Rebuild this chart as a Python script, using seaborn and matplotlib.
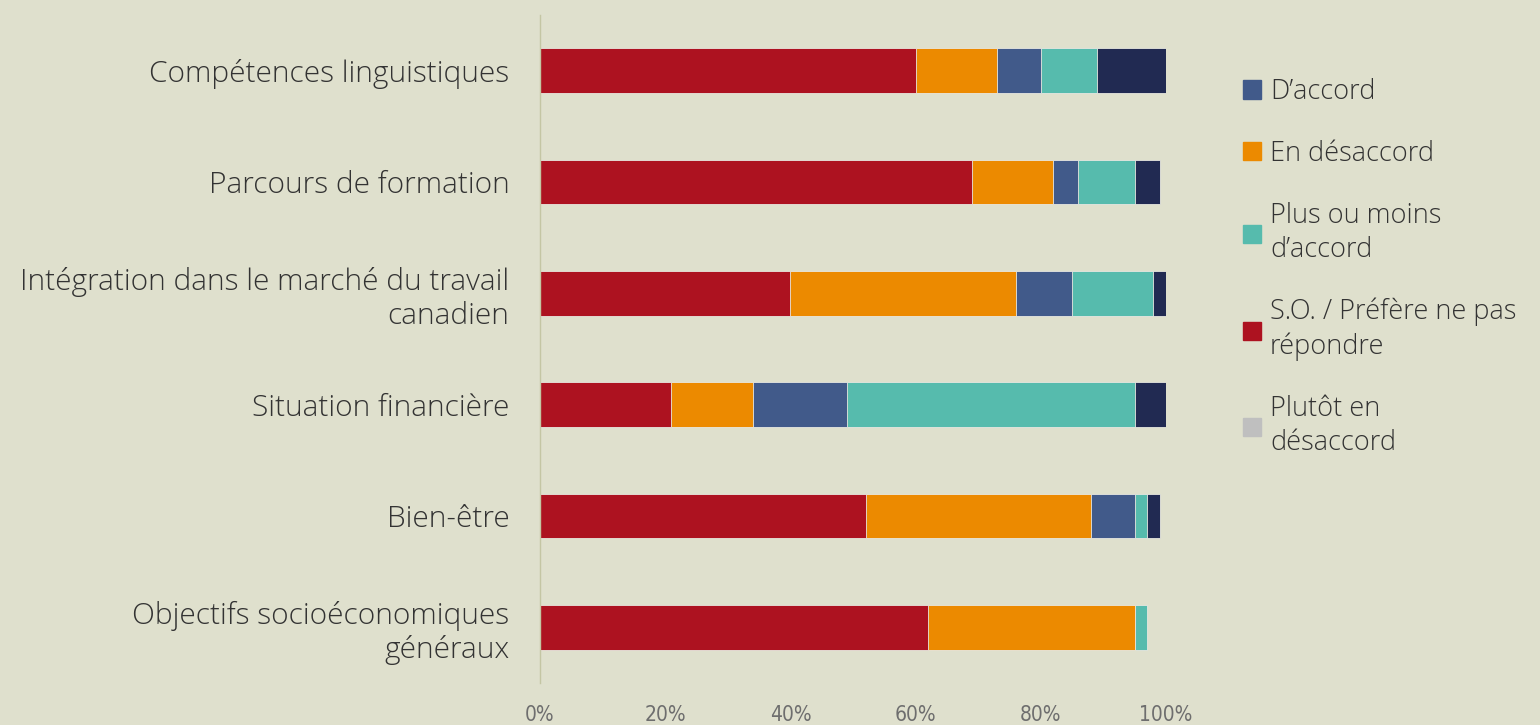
import numpy as np
import pandas as pd
import matplotlib.pyplot as plt
import seaborn as sns
from matplotlib.patches import Patch

categories = ['Compétences linguistiques', 'Parcours de formation',
              'Intégration dans le marché du travail\ncanadien', 'Situation financière',
              'Bien-être', 'Objectifs socioéconomiques\ngénéraux']
so_prefere = [60, 69, 40, 21, 52, 62]
en_desaccord = [13, 13, 36, 13, 36, 33]
d_accord = [7, 4, 9, 15, 7, 0]
plus_ou_moins = [9, 9, 13, 46, 2, 2]
tout_a_fait = [11, 4, 2, 5, 2, 0]
ticks = [0, 20, 40, 60, 80, 100]

bg = '#dfe0cd'
series = [('S.O. / Préfère ne pas\nrépondre', so_prefere, '#ad1220'),
          ('En désaccord', en_desaccord, '#ec8a00'),
          ('D’accord', d_accord, '#415a8a'),
          ('Plus ou moins\nd’accord', plus_ou_moins, '#56bbad'),
          ('Tout à fait d’accord', tout_a_fait, '#212a52')]

df = pd.DataFrame({'cat': categories})
cum = np.zeros(len(categories))
for name, vals, col in series:
    cum = cum + np.array(vals)
    df[name] = cum / 100.0

sns.set_style('white')
plt.rcParams['font.family'] = ['Open Sans', 'DejaVu Sans']
plt.rcParams['font.weight'] = 'light'

fig = plt.figure(figsize=(15.4, 7.25), dpi=100, facecolor=bg)
ax = fig.add_axes([540 / 1540, 1 - 683 / 725, 626 / 1540, 668 / 725])
ax.set_facecolor(bg)

# draw the cumulative totals from the largest down so each layer shows its own part
for name, vals, col in reversed(series):
    sns.barplot(data=df, x=name, y='cat', color=col, orient='h', width=0.4,
                saturation=1, edgecolor='#e8e8e0', linewidth=0.6, ax=ax)

ax.set_xlim(0, 1)
ax.set_ylim(5.5, -0.5)
ax.set_xticks([t / 100 for t in ticks])
ax.set_xticklabels([f'{t}%' for t in ticks], fontsize=15, color='#6e6e6e',
                   family='DejaVu Sans', fontstretch='condensed', fontweight='normal')
ax.set_yticklabels(categories, fontsize=21.5, color='#333333')
ax.set_xlabel('')
ax.set_ylabel('')
ax.tick_params(axis='both', length=0)
ax.tick_params(axis='x', pad=16)
ax.tick_params(axis='y', pad=22)
for s in ['top', 'right', 'bottom']:
    ax.spines[s].set_visible(False)
ax.spines['left'].set_color('#c4c6a4')
ax.spines['left'].set_linewidth(1)

handles = [Patch(color='#415a8a', label='D’accord'),
           Patch(color='#ec8a00', label='En désaccord'),
           Patch(color='#56bbad', label='Plus ou moins\nd’accord'),
           Patch(color='#ad1220', label='S.O. / Préfère ne pas\nrépondre'),
           Patch(color='#bfbfbf', label='Plutôt en\ndésaccord')]
leg = fig.legend(handles=handles, loc='upper left', bbox_to_anchor=(1243 / 1540, 1 - 78 / 725),
                 frameon=False, fontsize=19.5, handlelength=0.65, handleheight=0.65,
                 handletextpad=0.35, labelspacing=1.25, labelcolor='#333333',
                 borderpad=0, borderaxespad=0)
for t in leg.get_texts():
    t.set_linespacing(1.3)

fig.savefig('out.png', dpi=100, facecolor=bg)
